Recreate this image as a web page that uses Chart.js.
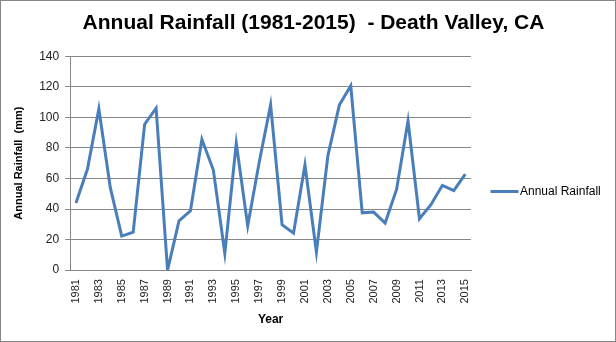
<!DOCTYPE html>
<html>
<head>
<meta charset="utf-8">
<script src="https://cdn.jsdelivr.net/npm/chart.js@4/dist/chart.umd.min.js"></script>
<style>
    html, body { margin: 0; padding: 0; background: #fff; }
    #wrap { width: 614px; height: 340px; border: 1px solid #868686; }
</style>
</head>
<body>
<div id="wrap"><canvas id="rainChart" width="614" height="340"></canvas></div>
<script>
// Données
const years = ['1981', '1982', '1983', '1984', '1985', '1986', '1987', '1988', '1989', '1990',
    '1991', '1992', '1993', '1994', '1995', '1996', '1997', '1998', '1999', '2000',
    '2001', '2002', '2003', '2004', '2005', '2006', '2007', '2008', '2009', '2010',
    '2011', '2012', '2013', '2014', '2015'];
const rainfall = [44, 66, 105.5, 54, 22.3, 24.8, 95.5, 106, 0, 32.2,
    38.8, 85.6, 65.5, 11, 83, 29, 70.5, 108.2, 29.7, 24.2,
    68.8, 11.7, 74.8, 108, 120.6, 37.5, 38, 30.8, 52.8, 97.6,
    33.6, 42.8, 55.5, 52, 62.8];
const yMin = 0;
const yMax = 140;
const yStep = 20;

const seriesLabel = 'Annual Rainfall';
const lineColor = '#4A7EBB';
const gridColor = '#868686';
const baseFont = "'Liberation Sans', Arial, sans-serif";

// Légende dessinée à droite, comme dans Excel
const sideLegend = {
    id: 'sideLegend',
    afterDraw(chart) {
        const ctx = chart.ctx;
        const ds = chart.data.datasets[0];
        ctx.save();
        ctx.strokeStyle = ds.borderColor;
        ctx.lineWidth = 3;
        ctx.beginPath();
        ctx.moveTo(489.5, 190.5);
        ctx.lineTo(517.5, 190.5);
        ctx.stroke();
        ctx.fillStyle = '#000';
        ctx.font = '12px ' + baseFont;
        ctx.textBaseline = 'middle';
        ctx.fillText(ds.label, 519, 191);
        ctx.restore();
    }
};

const ctx = document.getElementById('rainChart').getContext('2d');
const chart = new Chart(ctx, {
    type: 'line',
    data: {
        labels: years,
        datasets: [{
            label: seriesLabel,
            data: rainfall,
            borderColor: lineColor,
            backgroundColor: lineColor,
            borderWidth: 3,
            pointRadius: 0,
            tension: 0,
            fill: false
        }]
    },
    options: {
        responsive: false,
        animation: false,
        layout: {
            padding: { left: 11, right: 0, top: 10, bottom: 14 }
        },
        plugins: {
            legend: { display: false },
            tooltip: { enabled: false },
            title: {
                display: true,
                text: 'Annual Rainfall (1981-2015)  - Death Valley, CA',
                color: '#000',
                font: { family: baseFont, size: 21, weight: 'bold' },
                padding: { top: 0, bottom: 20 }
            }
        },
        scales: {
            x: {
                offset: true,
                grid: { display: false, tickLength: 4 },
                border: { display: true, color: gridColor, width: 1 },
                ticks: {
                    autoSkip: false,
                    maxRotation: 90,
                    minRotation: 90,
                    padding: 5,
                    color: '#222',
                    font: { family: baseFont, size: 11 },
                    callback: function (value, index) {
                        return index % 2 === 0 ? this.getLabelForValue(value) : '';
                    }
                },
                title: {
                    display: true,
                    text: 'Year',
                    color: '#000',
                    font: { family: baseFont, size: 12, weight: 'bold' },
                    padding: { top: 4, bottom: 0 }
                }
            },
            y: {
                min: yMin,
                max: yMax,
                grid: { color: gridColor, lineWidth: 1, tickLength: 5, drawTicks: true },
                border: { display: true, color: gridColor, width: 1 },
                ticks: {
                    stepSize: yStep,
                    padding: 6,
                    color: '#222',
                    font: { family: baseFont, size: 12 }
                },
                title: {
                    display: true,
                    text: 'Annual Rainfall  (mm)',
                    color: '#000',
                    font: { family: baseFont, size: 11, weight: 'bold' },
                    padding: { top: 0, bottom: 8 }
                }
            },
            // axe vide à droite : réserve la place de la légende
            legendSpace: {
                position: 'right',
                display: true,
                grid: { display: false, drawTicks: false },
                border: { display: false },
                ticks: { display: false },
                afterFit: (scale) => { scale.width = 144; }
            }
        }
    },
    plugins: [sideLegend]
});
</script>
</body>
</html>
